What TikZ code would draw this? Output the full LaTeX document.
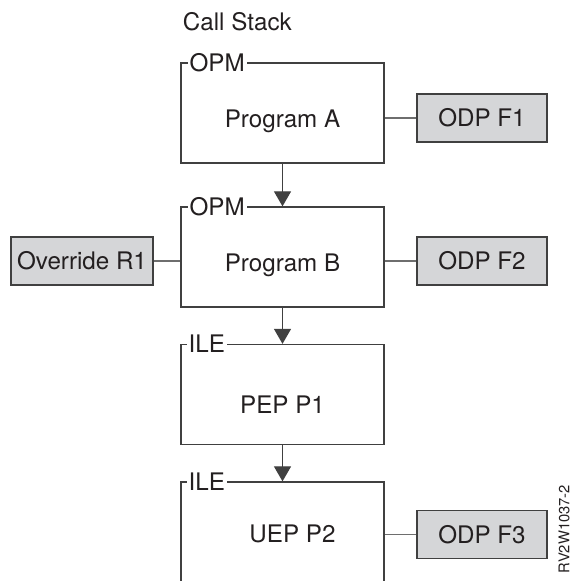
\documentclass[tikz,border=0pt]{standalone}
\usepackage{fontspec}
\setmainfont{TeX Gyre Heros}
\usepackage{tikz}
\usetikzlibrary{%
  arrows.meta,%
  calc,%
  positioning%
}
\definecolor{framegray}{RGB}{64,64,64}
\definecolor{linkgray}{RGB}{110,110,110}
\definecolor{boxgray}{RGB}{213,214,216}
\definecolor{inkgray}{RGB}{35,31,32}

\begin{document}
\begin{tikzpicture}[
    prog/.style={draw=framegray,line width=0.9pt,minimum width=5.075cm,
      minimum height=2.5cm,inner sep=0pt},
    odp/.style={draw=framegray,line width=0.9pt,fill=boxgray,minimum width=3.25cm,
      minimum height=1.2cm,inner sep=0pt,text=inkgray,font=\fontsize{17.2}{20}\selectfont},
    txt/.style={text=inkgray,font=\fontsize{17.2}{20}\selectfont},
    tag/.style={fill=white,inner xsep=0.05cm,inner ysep=0pt,anchor=west,
      text=inkgray,font=\fontsize{17.2}{20}\selectfont},
    link/.style={draw=linkgray,line width=0.8pt},
    call/.style={draw=framegray,line width=0.9pt,
      -{Triangle[width=0.425cm,length=0.375cm]}}
  ]
    \clip (0,0) rectangle (14.3,14.525);
    \node[txt,anchor=west] (title) at (4.45,13.975) {Call Stack};

    % the call stack
    \node[prog] (progA) at (7.0625,11.7) {};
    \node[txt] (progAtxt) at ([yshift=-1.475cm]progA.north) {Program A};
    \node[tag] (progAtag) at ([xshift=0.175cm]progA.north west) {OPM};

    \node[prog] (progB) at (7.0625,8.1) {};
    \node[txt] (progBtxt) at ([yshift=-1.475cm]progB.north) {Program B};
    \node[tag] (progBtag) at ([xshift=0.175cm]progB.north west) {OPM};

    \node[prog] (pep) at (7.0625,4.6625) {};
    \node[txt] (peptxt) at ([yshift=-1.525cm]pep.north) {PEP P1};
    \node[tag] (peptag) at ([xshift=0.15cm]pep.north west) {ILE};

    \node[prog,minimum height=2.6cm] (uep) at (7.0625,1.175) {};
    \node[txt] (ueptxt) at ([xshift=0.25cm,yshift=-1.325cm]uep.north) {UEP P2};
    \node[tag] (ueptag) at ([xshift=0.15cm]uep.north west) {ILE};

    \draw[call] (progA.south) -- (progB.north);
    \draw[call] (progB.south) -- (pep.north);
    \draw[call] (pep.south) -- (uep.north);

    % open data paths and overrides
    \node[odp] (odpF1) at (12.05,11.575) {ODP F1};
    \node[odp] (odpF2) at (12.05,8.0) {ODP F2};
    \node[odp] (odpF3) at (12.05,1.1625) {ODP F3};
    \node[odp,minimum width=3.55cm] (override) at (2.05,8.0) {Override R1};

    \draw[link] (odpF1.west) -- (odpF1.west -| progA.east);
    \draw[link] (odpF2.west) -- (odpF2.west -| progB.east);
    \draw[link] (odpF3.west) -- (odpF3.west -| uep.east);
    \draw[link] (override.east) -- (override.east -| progB.west);

    \node[rotate=90,text=inkgray,font=\fontsize{10.5}{12}\selectfont] (figid)
      at (14.1,1.3) {RV2W1037-2};
  \end{tikzpicture}
\end{document}
